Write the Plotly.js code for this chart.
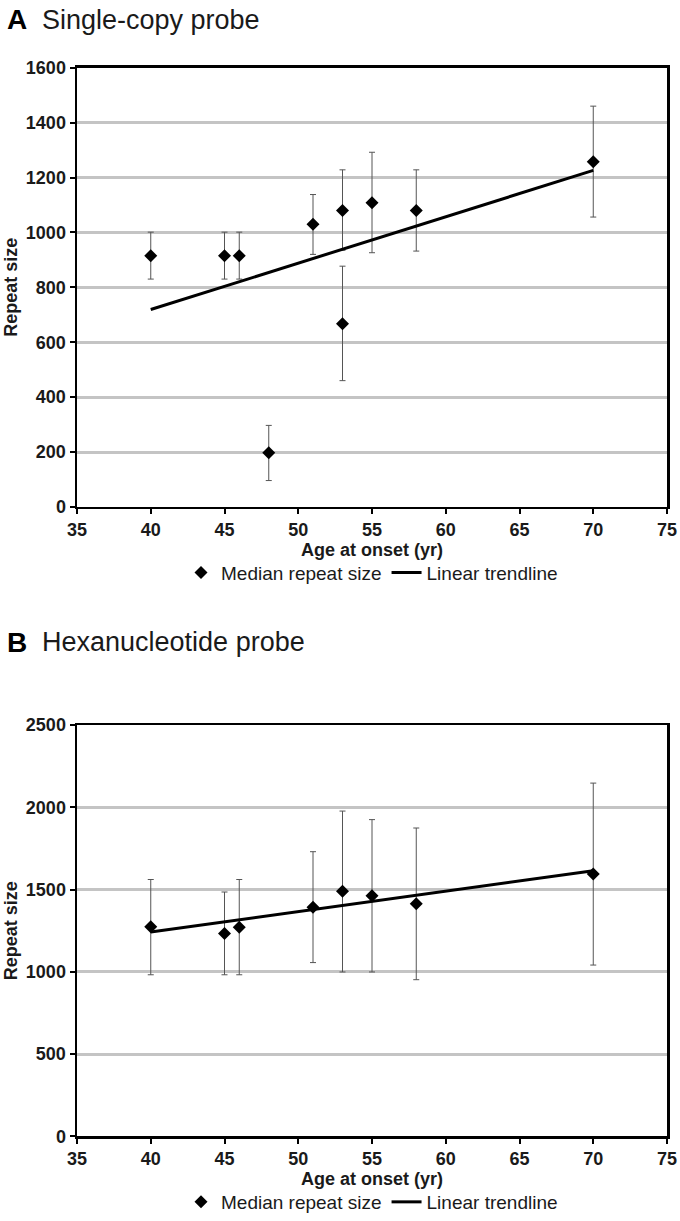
<!DOCTYPE html>
<html>
<head>
<meta charset="utf-8">
<script src="https://cdn.plot.ly/plotly-3.0.1.min.js"></script>
<style>
  body { margin: 0; background: #fff; }
  #chart { width: 680px; height: 1221px; }
</style>
</head>
<body>
<div id="chart"></div>
<script>
// Panel A: single-copy probe
const ageA = [40, 45, 46, 48, 51, 53, 53, 55, 58, 70];
const medianA = [915, 915, 915, 197, 1030, 1080, 667, 1108, 1080, 1257];
const upperA = [1001, 1001, 1001, 297, 1138, 1228, 877, 1292, 1228, 1460];
const lowerA = [830, 830, 830, 96, 920, 935, 460, 926, 932, 1056];
const trendAgeA = [40, 70];
const trendA = [719, 1226];

// Panel B: hexanucleotide probe
const ageB = [40, 45, 46, 51, 53, 55, 58, 70];
const medianB = [1274, 1233, 1271, 1393, 1489, 1463, 1414, 1595];
const upperB = [1561, 1485, 1561, 1730, 1977, 1925, 1874, 2147];
const lowerB = [982, 982, 982, 1056, 999, 999, 952, 1041];
const trendAgeB = [40, 70];
const trendB = [1242, 1614];

const FONT = "Liberation Sans, Arial, sans-serif";
const INK = "#1a1a1a";

function medianTrace(x, y, up, lo, xa, ya, legend) {
    return {
        x: x, y: y,
        xaxis: xa, yaxis: ya, legend: legend,
        type: 'scatter', mode: 'markers',
        name: 'Median repeat size',
        marker: { symbol: 'diamond', size: 10, color: '#000' },
        error_y: {
            type: 'data', symmetric: false,
            array: up.map((u, i) => u - y[i]),
            arrayminus: lo.map((l, i) => y[i] - l),
            color: '#555', thickness: 1, width: 3
        }
    };
}

function trendTrace(x, y, xa, ya, legend) {
    return {
        x: x, y: y,
        xaxis: xa, yaxis: ya, legend: legend,
        type: 'scatter', mode: 'lines',
        name: 'Linear trendline',
        line: { color: '#000', width: 3 }
    };
}

const data = [
    medianTrace(ageA, medianA, upperA, lowerA, 'x', 'y', 'legend'),
    trendTrace(trendAgeA, trendA, 'x', 'y', 'legend'),
    medianTrace(ageB, medianB, upperB, lowerB, 'x2', 'y2', 'legend2'),
    trendTrace(trendAgeB, trendB, 'x2', 'y2', 'legend2')
];

const tickFont = { family: FONT, size: 18, color: INK, weight: 'bold' };
const titleFont = { family: FONT, size: 18, color: INK, weight: 'bold' };

function xAxis(anchor) {
    return {
        anchor: anchor, domain: [0, 1],
        range: [35, 75], dtick: 5, tick0: 35,
        showgrid: false, zeroline: false,
        showline: true, mirror: true, linecolor: '#000', linewidth: 2.5,
        ticks: 'outside', ticklen: 5, tickwidth: 2, tickcolor: '#000',
        tickfont: tickFont,
        title: { text: 'Age at onset (yr)', standoff: 0, font: titleFont }
    };
}

function yAxis(anchor, domain, max, step) {
    return {
        anchor: anchor, domain: domain,
        range: [0, max], dtick: step,
        showgrid: true, gridcolor: '#c4c4c4', gridwidth: 3,
        zeroline: false,
        showline: true, mirror: true, linecolor: '#000', linewidth: 2.5,
        ticks: 'outside', ticklen: 5, tickwidth: 2, tickcolor: '#000',
        tickfont: tickFont,
        title: { text: 'Repeat size', standoff: 4, font: titleFont }
    };
}

const legendStyle = (y) => ({
    orientation: 'h', x: 0.5, xanchor: 'center', y: y, yanchor: 'middle',
    font: { family: FONT, size: 19, color: INK },
    bgcolor: 'rgba(0,0,0,0)', itemwidth: 30, tracegroupgap: 0
});

const layout = {
    width: 680, height: 1221,
    margin: { l: 77, r: 13, t: 0, b: 0 },
    paper_bgcolor: '#fff', plot_bgcolor: '#fff',
    showlegend: true,
    xaxis: xAxis('y'),
    yaxis: yAxis('x', [1 - 509 / 1221, 1 - 68 / 1221], 1600, 200),
    xaxis2: xAxis('y2'),
    yaxis2: yAxis('x2', [1 - 1141 / 1221, 1 - 728 / 1221], 2500, 500),
    legend: legendStyle(1 - 575 / 1221),
    legend2: legendStyle(1 - 1207 / 1221),
    annotations: [
        { text: '<b>A</b>', x: -72 / 590, y: 1 - 20 / 1221, xref: 'paper', yref: 'paper',
          xanchor: 'left', yanchor: 'middle', showarrow: false,
          font: { family: FONT, size: 28, color: '#000' } },
        { text: 'Single-copy probe', x: -37 / 590, y: 1 - 20 / 1221, xref: 'paper', yref: 'paper',
          xanchor: 'left', yanchor: 'middle', showarrow: false,
          font: { family: FONT, size: 27, color: INK } },
        { text: '<b>B</b>', x: -72 / 590, y: 1 - 645 / 1221, xref: 'paper', yref: 'paper',
          xanchor: 'left', yanchor: 'middle', showarrow: false,
          font: { family: FONT, size: 28, color: '#000' } },
        { text: 'Hexanucleotide probe', x: -37 / 590, y: 1 - 645 / 1221, xref: 'paper', yref: 'paper',
          xanchor: 'left', yanchor: 'middle', showarrow: false,
          font: { family: FONT, size: 27, color: INK } }
    ]
};

Plotly.newPlot('chart', data, layout, { displayModeBar: false, staticPlot: true });
</script>
</body>
</html>
